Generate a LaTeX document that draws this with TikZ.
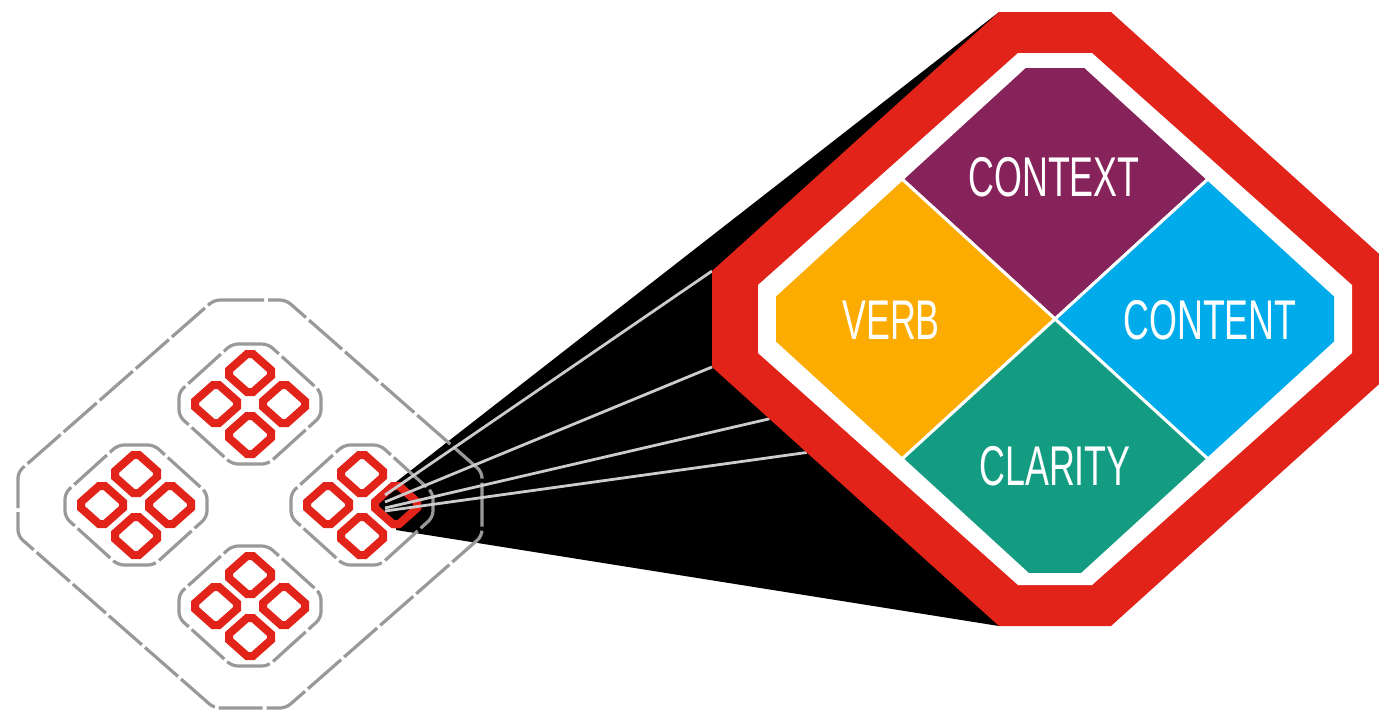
\documentclass[tikz,border=0pt]{standalone}
\usepackage{fontspec}
\newfontfamily\boxfont[FakeStretch=0.64]{Liberation Sans}
\usetikzlibrary{calc}
\definecolor{ringred}{HTML}{E2231A}
\definecolor{ctxpurple}{HTML}{87235B}
\definecolor{verborange}{HTML}{FCAB00}
\definecolor{cntblue}{HTML}{00ABEB}
\definecolor{clrteal}{HTML}{149C83}

\begin{document}
\begin{tikzpicture}[x=0.5pt, y=-0.5pt,
    outline/.style={draw=gray!80, line width=1.6pt, dash pattern=on 22pt off 2pt, rounded corners=3pt},
    chip/.style={draw=ringred, line width=4pt, line join=miter},
    ray/.style={draw=black!20, line width=1.4pt},
    petal/.style={draw=white, line width=1.5pt},
    word/.style={text=white, inner sep=0pt, font=\boxfont\fontsize{28}{28}\selectfont}]
    \useasboundingbox (0,0) rectangle (1379,714);
    \clip (0,0) rectangle (1379,714);

    % corners of the big board
        \coordinate (O) at (1055,319);
        \coordinate (R1) at ($(O)+(-56,-307)$);
        \coordinate (R2) at ($(O)+(56,-307)$);
        \coordinate (R3) at ($(O)+(343,-48)$);
        \coordinate (R4) at ($(O)+(343,48)$);
        \coordinate (R5) at ($(O)+(56,307)$);
        \coordinate (R6) at ($(O)+(-56,307)$);
        \coordinate (R7) at ($(O)+(-343,48)$);
        \coordinate (R8) at ($(O)+(-343,-48)$);

    % the beam from the picked chip
        \coordinate (K) at (396,505);
        \coordinate (T) at ($(K)+(0,-23)$);
        \coordinate (U) at ($(K)+(0,25)$);
        \fill[black] (T) -- (R1) -- (R6) -- (U) -- cycle;

    % the small board
        \coordinate (C) at (250,504);
        \draw[outline] ($(C)+(-36,-204)$) -- ($(C)+(36,-204)$) -- ($(C)+(232,-32)$) -- ($(C)+(232,32)$) -- ($(C)+(36,204)$) -- ($(C)+(-36,204)$) -- ($(C)+(-232,32)$) -- ($(C)+(-232,-32)$) -- cycle;
        \foreach \gx/\gy in {250/404, 136/505, 362/505, 250/606}{
            \coordinate (G) at (\gx,\gy);
            \draw[outline] ($(G)+(-18,-60)$) -- ($(G)+(18,-60)$) -- ($(G)+(71,-12)$) -- ($(G)+(71,12)$) -- ($(G)+(18,60)$) -- ($(G)+(-18,60)$) -- ($(G)+(-71,12)$) -- ($(G)+(-71,-12)$) -- cycle;
            \foreach \dx/\dy in {0/-31, -34/0, 34/0, 0/31}{
                \coordinate (D) at ($(G)+(\dx,\dy)$);
                \draw[chip] ($(D)+(-3,-19)$) -- ($(D)+(3,-19)$) -- ($(D)+(21,-3)$) -- ($(D)+(21,3)$) -- ($(D)+(3,19)$) -- ($(D)+(-3,19)$) -- ($(D)+(-21,3)$) -- ($(D)+(-21,-3)$) -- cycle;
            }
        }
        \draw[chip, fill=black] ($(K)+(-3,-19)$) -- ($(K)+(3,-19)$) -- ($(K)+(21,-3)$) -- ($(K)+(21,3)$) -- ($(K)+(3,19)$) -- ($(K)+(-3,19)$) -- ($(K)+(-21,3)$) -- ($(K)+(-21,-3)$) -- cycle;

    % rays
        \coordinate (A1) at (385,495);
        \coordinate (A2) at (385,502);
        \coordinate (A3) at (385,508);
        \coordinate (A4) at (385,511);
        \draw[ray] (A1) -- (R8);
        \draw[ray] (A2) -- (R7);
        \draw[ray] (A3) -- ($(R7)!0.2!(R6)$);
        \draw[ray] (A4) -- ($(R7)!0.33!(R6)$);

    % the big board
        \fill[ringred] (R1) -- (R2) -- (R3) -- (R4) -- (R5) -- (R6) -- (R7) -- (R8) -- cycle;
        \fill[white] ($(O)+(-37,-266)$) -- ($(O)+(37,-266)$) -- ($(O)+(297,-34)$) -- ($(O)+(297,34)$) -- ($(O)+(37,266)$) -- ($(O)+(-37,266)$) -- ($(O)+(-297,34)$) -- ($(O)+(-297,-34)$) -- cycle;
        \begin{scope}
            \clip ($(O)+(-279,-251)$) rectangle ($(O)+(279,253)$);
            \foreach \px/\py/\col in {0/-140/ctxpurple, -153/0/verborange, 153/0/cntblue, 0/140/clrteal}
                \draw[petal, fill=\col] ($(O)+(\px,\py)+(0,-140)$) -- ($(O)+(\px,\py)+(153,0)$) -- ($(O)+(\px,\py)+(0,140)$) -- ($(O)+(\px,\py)+(-153,0)$) -- cycle;
        \end{scope}
        \node[word] (ctx) at (1054,177) {CONTEXT};
        \node[word] (verb) at (891,320) {VERB};
        \node[word] (cnt) at (1210,320) {CONTENT};
        \node[word] (clr) at (1055,466) {CLARITY};
\end{tikzpicture}
\end{document}
